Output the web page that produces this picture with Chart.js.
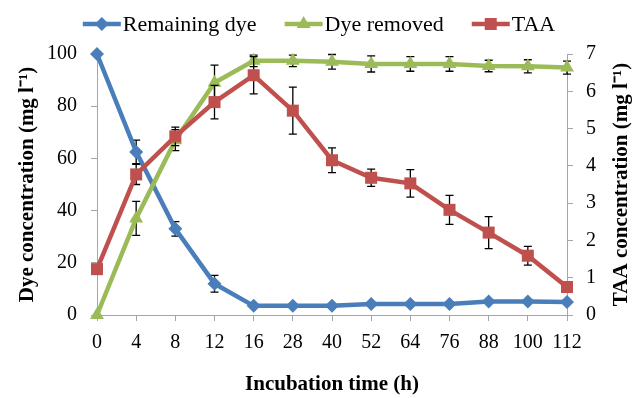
<!DOCTYPE html>
<html><head><meta charset="utf-8">
<script src="https://cdn.jsdelivr.net/npm/chart.js@4.4.1/dist/chart.umd.min.js"></script>
<style>html,body{margin:0;padding:0;background:#fff}</style>
</head><body>
<canvas id="c" width="640" height="398"></canvas>
<script>
// ---- data ----
const categories = ['0','4','8','12','16','28','40','52','64','76','88','100','112'];
const remainingDye    = [100, 62.5, 33, 12, 3.5, 3.5, 3.5, 4.2, 4.2, 4.2, 5.2, 5.2, 5.0];
const remainingDyeErr = [0, 4.5, 2.8, 3.2, 0, 0, 0, 0, 0, 0, 0, 0, 0];
const dyeRemoved      = [0, 37, 67, 89, 97.4, 97.4, 97, 96.2, 96.2, 96.2, 95.4, 95.3, 94.8];
const dyeRemovedErr   = [0, 6.5, 4, 6.7, 2.2, 2.2, 2.8, 3.1, 2.8, 2.8, 2.2, 2.5, 2.5];
const taa             = [1.23, 3.77, 4.79, 5.71, 6.43, 5.48, 4.15, 3.68, 3.53, 2.82, 2.21, 1.59, 0.75];
const taaErr          = [0, 0.27, 0.25, 0.45, 0.5, 0.63, 0.33, 0.23, 0.37, 0.39, 0.43, 0.25, 0];
const seriesNames = ['Remaining dye', 'Dye removed', 'TAA'];
const xTitle = 'Incubation time (h)';
const yLeftTitle = 'Dye concentration (mg l\u207B\u00B9)';
const yRightTitle = 'TAA concentration (mg l\u207B\u00B9)';

const BLUE = '#4A7EBB', GREEN = '#9BBB59', RED = '#C0504D';
const FONT = "'Liberation Serif', 'Times New Roman', serif";
const AXIS = '#a6a6a6';

const errorBars = {
  id: 'errorBars',
  beforeDatasetDraw(chart, args) {
    const ds = chart.data.datasets[args.index];
    if (!ds.errors) return;
    const meta = args.meta;
    const ys = chart.scales[meta.yAxisID];
    const ctx = chart.ctx;
    ctx.save();
    ctx.strokeStyle = '#000';
    ctx.lineWidth = 1.3;
    meta.data.forEach((pt, i) => {
      const e = ds.errors[i];
      if (!e) return;
      const v = ds.data[i];
      const yt = ys.getPixelForValue(v + e), yb = ys.getPixelForValue(v - e);
      const x = pt.x;
      ctx.beginPath();
      ctx.moveTo(x, yt); ctx.lineTo(x, yb);
      ctx.moveTo(x - 4, yt); ctx.lineTo(x + 4, yt);
      ctx.moveTo(x - 4, yb); ctx.lineTo(x + 4, yb);
      ctx.stroke();
    });
    ctx.restore();
  }
};

function drawMarker(ctx, style, x, y, r, color) {
  ctx.fillStyle = color;
  ctx.beginPath();
  if (style === 'rectRot') {
    ctx.moveTo(x, y - r); ctx.lineTo(x + r, y); ctx.lineTo(x, y + r); ctx.lineTo(x - r, y);
  } else if (style === 'triangle') {
    const a = Math.PI * 2 / 3;
    for (let k = 0; k < 3; k++) {
      const ang = k * a;
      const px = x + Math.sin(ang) * r, py = y - Math.cos(ang) * r;
      if (k === 0) ctx.moveTo(px, py); else ctx.lineTo(px, py);
    }
  } else {
    const s = r * Math.SQRT1_2;
    ctx.rect(x - s, y - s, 2 * s, 2 * s);
  }
  ctx.closePath();
  ctx.fill();
}

const extras = {
  id: 'extras',
  afterDraw(chart) {
    const ctx = chart.ctx;
    ctx.save();
    // legend
    ctx.font = "22px " + FONT;
    ctx.textBaseline = 'middle';
    ctx.textAlign = 'left';
    const lineLen = 38, gapText = 2, gapItem = 28, ly = 24;
    const dss = chart.data.datasets;
    const widths = dss.map(d => lineLen + gapText + ctx.measureText(d.label).width);
    const total = widths.reduce((a, b) => a + b, 0) + gapItem * (dss.length - 1);
    let x = 319 - total / 2;
    dss.forEach((d, i) => {
      ctx.strokeStyle = d.borderColor;
      ctx.lineWidth = d.borderWidth;
      ctx.beginPath(); ctx.moveTo(x, ly); ctx.lineTo(x + lineLen, ly); ctx.stroke();
      drawMarker(ctx, d.pointStyle, x + lineLen / 2, ly, d.pointRadius, d.borderColor);
      ctx.fillStyle = '#000';
      ctx.fillText(d.label, x + lineLen + gapText, ly + 1);
      x += widths[i] + gapItem;
    });
    // right axis title, reading bottom-to-top
    const ca = chart.chartArea;
    ctx.translate(622, (ca.top + ca.bottom) / 2);
    ctx.rotate(-Math.PI / 2);
    ctx.font = "bold 21px " + FONT;
    ctx.textAlign = 'center';
    ctx.fillStyle = '#000';
    ctx.fillText(yRightTitle, 0, 0);
    ctx.restore();
  }
};

const tickFont = { family: FONT, size: 20 };
const titleFont = { family: FONT, size: 21, weight: 'bold' };

new Chart(document.getElementById('c'), {
  type: 'line',
  data: {
    labels: categories,
    datasets: [
      { label: seriesNames[0], data: remainingDye, errors: remainingDyeErr, yAxisID: 'y',
        borderColor: BLUE, backgroundColor: BLUE, borderWidth: 4.5, pointStyle: 'rectRot',
        pointRadius: 7, pointBorderWidth: 0, order: 3, clip: false, tension: 0 },
      { label: seriesNames[1], data: dyeRemoved, errors: dyeRemovedErr, yAxisID: 'y',
        borderColor: GREEN, backgroundColor: GREEN, borderWidth: 4.5, pointStyle: 'triangle',
        pointRadius: 8, pointBorderWidth: 0, order: 2, clip: false, tension: 0 },
      { label: seriesNames[2], data: taa, errors: taaErr, yAxisID: 'y2',
        borderColor: RED, backgroundColor: RED, borderWidth: 4.5, pointStyle: 'rect',
        pointRadius: 8.5, pointBorderWidth: 0, order: 1, clip: false, tension: 0 }
    ]
  },
  options: {
    responsive: false,
    animation: false,
    layout: { padding: { top: 54, left: 0, right: 0, bottom: 0 } },
    plugins: { legend: { display: false }, tooltip: { enabled: false } },
    scales: {
      x: {
        type: 'category', offset: false,
        grid: { display: true, drawOnChartArea: false, drawTicks: true, tickLength: 6, color: AXIS },
        border: { display: true, color: AXIS, width: 1 },
        ticks: { color: '#000', font: tickFont, padding: 10, maxRotation: 0, autoSkip: false },
        title: { display: true, text: xTitle, color: '#000', font: titleFont, padding: { top: 0, bottom: 1 } },
        afterFit(s) { s.height = 83; }
      },
      y: {
        position: 'left', min: 0, max: 100,
        grid: { display: true, drawOnChartArea: false, drawTicks: true, tickLength: 6, color: AXIS },
        border: { display: true, color: AXIS, width: 1 },
        ticks: { stepSize: 20, color: '#000', font: tickFont, padding: 14 },
        title: { display: true, text: yLeftTitle, color: '#000', font: titleFont, padding: { top: 15, bottom: 0 } },
        afterFit(s) { s.width = 97; }
      },
      y2: {
        position: 'right', min: 0, max: 7,
        grid: { display: true, drawOnChartArea: false, drawTicks: true, tickLength: 6, color: AXIS },
        border: { display: true, color: AXIS, width: 1 },
        ticks: { stepSize: 1, color: '#000', font: tickFont, padding: 13 },
        afterFit(s) { s.width = 73; }
      }
    }
  },
  plugins: [errorBars, extras]
});
</script>
</body></html>
